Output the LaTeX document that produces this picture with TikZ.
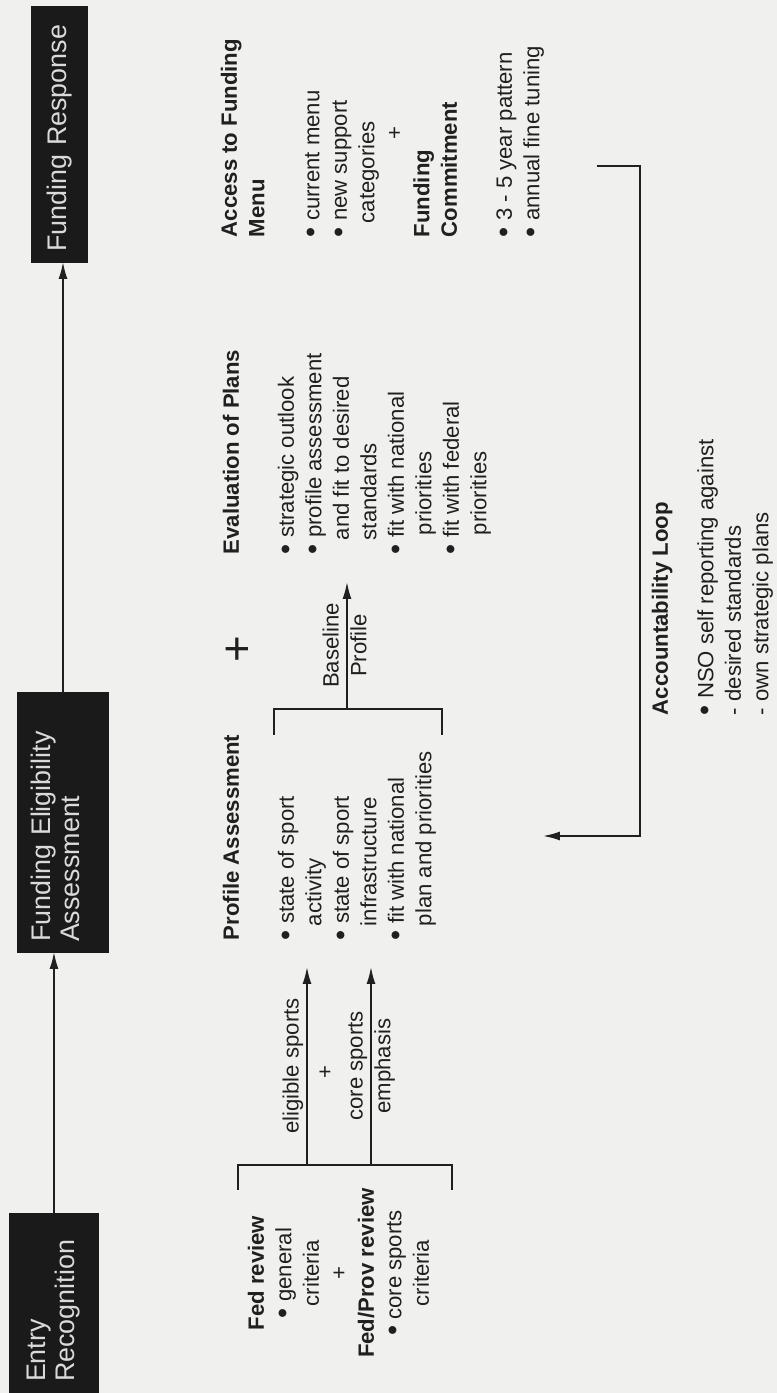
\documentclass[tikz,border=0pt]{standalone}
\usepackage{fontspec}
\setmainfont{Liberation Sans}
\usetikzlibrary{arrows.meta}

\definecolor{paper}{RGB}{240,240,238}
\definecolor{ink}{RGB}{32,32,32}
\definecolor{boxfill}{RGB}{26,26,26}
\definecolor{boxtext}{RGB}{218,218,218}

\newcommand{\bodyfont}{\fontsize{12.6}{15.65}\selectfont}
\newcommand{\boxfont}{\fontsize{15.3}{16.5}\selectfont}
\newcommand{\bul}{\raisebox{-0.07em}{\scalebox{1.3}{\textbullet}}\ }
\newcommand{\ind}{\hphantom{\textbullet\ }}

\tikzset{
  stage/.style = {fill = boxfill, draw = boxfill, text = boxtext, font = \boxfont,
                  align = left, inner xsep = 0.2cm, inner ysep = 0pt},
  blurb/.style = {font = \bodyfont, text = ink, inner sep = 0pt},
  lbl/.style   = {font = \bodyfont, text = ink, inner sep = 0.05cm,
                  text height = 0.32cm, text depth = 0.1cm},
  flow/.style  = {draw = ink, -{Latex[length = 0.34cm, width = 0.18cm]}},
}

\begin{document}
\begin{tikzpicture}[x = 0.02cm, y = 0.02cm, rotate = 90, transform shape, line width = 1pt]
    \fill[paper] (0,0) rectangle (1393,777);
    \useasboundingbox (0,0) rectangle (1393,777);

    % stages
    \node[stage, text width = 3.16cm, minimum height = 1.76cm] (entry) at (90,723) {Entry\\Recognition};
    \node[stage, text width = 4.78cm, minimum height = 1.8cm, text depth = 0.9cm] (elig) at (570.5,714) {Funding Eligibility\\Assessment};
    \node[stage, text width = 4.7cm, minimum height = 1.1cm] (resp) at (1258.5,717.5) {Funding Response};
    \coordinate (eligin) at (441,723);
    \coordinate (respin) at (1131,714);
    \draw[flow] (entry.east) -- (eligin);
    \draw[flow] (elig.east) -- (respin);

    % reviews
    \node[blurb, anchor = north, align = center] (fed) at (120,530)
        {\textbf{Fed review}\\ \bul general\\ criteria\\ +\\ \textbf{Fed/Prov review}\\ \bul core sports\\ criteria};
    \draw[ink] (203,539) -- (228,539) -- (228,325) -- (203,325);
    \coordinate (sportsA) at (426,470);
    \coordinate (sportsB) at (426,406);
    \draw[flow] (228,470) -- (sportsA) node[lbl, midway, above] (eligsp) {eligible sports};
    \draw[flow] (228,406) -- (sportsB) node[lbl, midway, above] (coresp) {core sports}
                                       node[lbl, midway, below] (emph) {emphasis};
    \node[blurb] (andsp) at (321,451) {+};

    % profile
    \node[blurb, anchor = north west, align = left] (prof) at (452,555)
        {\textbf{Profile Assessment}\\[15.65pt]
         \bul state of sport\\ \ind activity\\
         \bul state of sport\\ \ind infrastructure\\
         \bul fit with national\\ \ind plan and priorities};
    \draw[ink] (658,503) -- (684,503) -- (684,335) -- (658,335);
    \coordinate (base) at (811,430);
    \draw[flow] (684,430) -- (base) node[lbl, midway, above] (basel) {Baseline}
                                    node[lbl, midway, below] (basep) {Profile};
    \node[font = \fontsize{26}{26}\selectfont, text = ink, inner sep = 0pt] (plus) at (744,538) {+};

    % evaluation
    \node[blurb, anchor = north west, align = left] (eval) at (838,555)
        {\textbf{Evaluation of Plans}\\[15.65pt]
         \bul strategic outlook\\
         \bul profile assessment\\ \ind and fit to desired\\ \ind standards\\
         \bul fit with national\\ \ind\hspace*{0.1cm}priorities\\
         \bul fit with federal\\ \ind\hspace*{0.1cm}priorities};

    % funding response
    \node[blurb, anchor = north west, align = left] (menu) at (1155,557)
        {\textbf{Access to Funding}\\ \textbf{Menu}\\[15.65pt]
         \bul current menu\\ \bul new support\\ \ind categories\\
         \hspace*{1.96cm}+\\
         \textbf{Funding}\\ \textbf{Commitment}\\[15.65pt]
         \bul 3 - 5 year pattern\\ \bul annual fine tuning};

    % accountability
    \coordinate (loopA) at (1227,180);
    \coordinate (loopB) at (557,234);
    \draw[flow] (loopA) -- ++(0,-43) -- ++(-670,0) -- (loopB);
    \node[blurb, anchor = north west, align = left] (acct) at (677,126)
        {\textbf{Accountability Loop}\\[0.36cm]
         \bul NSO self reporting against\\ - desired standards\\ - own strategic plans};
    %\draw[dotted] (0,0) rectangle (1393,777);
\end{tikzpicture}
\end{document}
